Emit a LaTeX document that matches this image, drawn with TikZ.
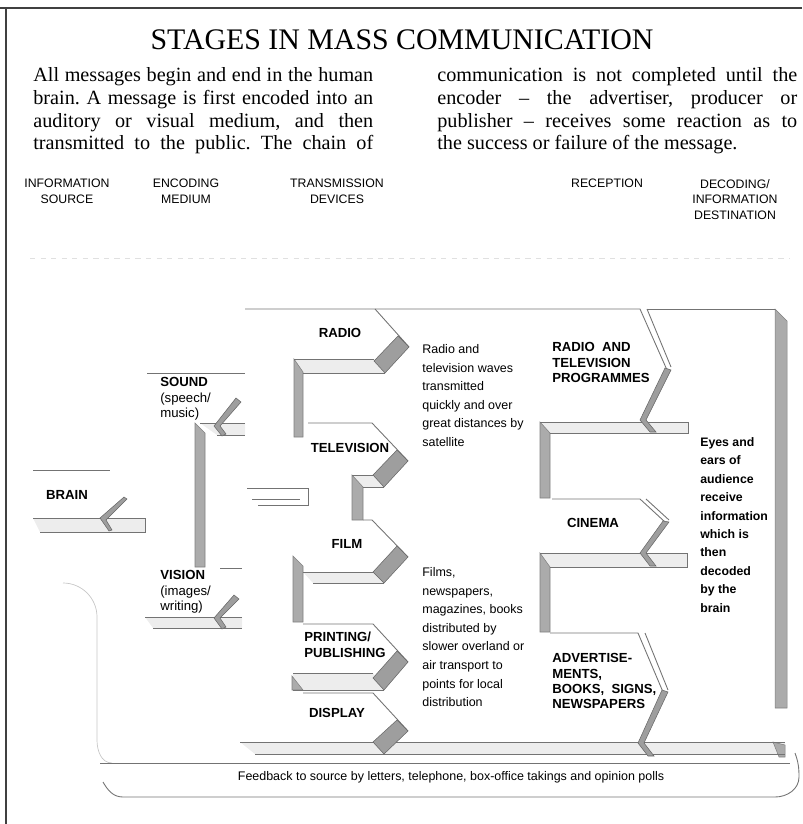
\documentclass[tikz,border=0pt]{standalone}
\usepackage{fontspec}
\setmainfont{Liberation Serif}
\setsansfont{Liberation Sans}
\frenchspacing
\tikzset{
	titulo/.style={font=\fontsize{17}{19}\selectfont, inner sep=0pt},
	parrafo/.style={font=\fontsize{11.5}{13}\selectfont, text width=6.8cm,
		align=justify, inner sep=0pt, anchor=north west},
	cabecera/.style={font=\sffamily\fontsize{7}{8.8}\selectfont, align=center,
		inner sep=0pt, anchor=north},
	etiqueta/.style={font=\sffamily\bfseries\fontsize{7.5}{8.8}\selectfont,
		align=left, inner sep=0pt},
	nota/.style={font=\sffamily\fontsize{7.1}{10.6}\selectfont, align=left,
		inner sep=0pt, anchor=north west},
	marco/.style={draw=black!75, line width=0.7pt},
	borde/.style={draw=black!55, line width=0.5pt},
	tenue/.style={draw=black!22, line width=0.4pt},
	pliegue/.style={fill=black!38, draw=black!60, line width=0.3pt},
	reverso/.style={fill=black!7},
	lateral/.style={fill=black!33, draw=black!50, line width=0.3pt}
}
\begin{document}
\begin{tikzpicture}[x=0.02cm, y=-0.02cm]
	\useasboundingbox (0,0) rectangle (802,824);
	\draw[marco] (0,8) -- (802,8);
	\draw[marco] (6,8) -- (6,824);
	
	\node[titulo] (title) at (402,40) {STAGES IN MASS COMMUNICATION};
	\node[parrafo] (izq) at (33,67) {\parfillskip=0pt All messages begin and end in the human\linebreak
		brain. A message is first encoded into an\linebreak
		auditory or visual medium, and then\linebreak
		transmitted to the public. The chain of\par};
	\node[parrafo, text width=7.2cm] (der) at (437,67) {communication is not completed until the\linebreak
		encoder -- the advertiser, producer or\linebreak
		publisher -- receives some reaction as to\linebreak
		the success or failure of the message.};
	
	\node[cabecera] (fuente) at (67,179) {INFORMATION\\SOURCE};
	\node[cabecera] (medio) at (186,179) {ENCODING\\MEDIUM};
	\node[cabecera] (trans) at (337,179) {TRANSMISSION\\DEVICES};
	\node[cabecera] (recep) at (607,179) {RECEPTION};
	\node[cabecera] (destino) at (735,179) {DECODING/\\INFORMATION\\DESTINATION};
	\draw[tenue, draw=black!12, dashed] (30,258) -- (790,258);
	
	% undersides and side bars
	\fill[reverso] (294,359) -- (374,359) -- (385,373) -- (303,373) -- cycle;
	\fill[reverso] (352,475) -- (373,475) -- (384,487) -- (363,487) -- cycle;
	\fill[reverso] (303,572) -- (373,572) -- (384,583) -- (313,583) -- cycle;
	\fill[reverso] (293,673) -- (373,673) -- (384,690) -- (293,690) -- cycle;
	\fill[reverso] (540,422) -- (688,422) -- (688,433) -- (550,433) -- cycle;
	\fill[reverso] (540,553) -- (687,553) -- (687,567) -- (550,567) -- cycle;
	\fill[reverso] (33,518) -- (145,518) -- (145,532) -- (40,532) -- cycle;
	\fill[reverso] (200,423) -- (245,423) -- (245,435) -- (217,435) -- cycle;
	\fill[reverso] (145,617) -- (242,617) -- (242,628) -- (153,628) -- cycle;
	\fill[reverso] (240,742) -- (785,742) -- (785,754) -- (255,754) -- cycle;
	\filldraw[lateral] (294,359) -- (303,372) -- (303,437) -- (294,437) -- cycle;
	\filldraw[lateral] (352,475) -- (363,487) -- (363,520) -- (352,520) -- cycle;
	\filldraw[lateral] (293,556) -- (303,566) -- (303,622) -- (293,622) -- cycle;
	\filldraw[lateral] (292,676) -- (303,690) -- (292,690) -- cycle;
	\filldraw[lateral] (195,423) -- (205,433) -- (205,567) -- (195,567) -- cycle;
	\filldraw[lateral] (540,422) -- (550,433) -- (550,498) -- (540,498) -- cycle;
	\filldraw[lateral] (540,553) -- (550,567) -- (550,632) -- (540,632) -- cycle;
	\filldraw[lateral] (775,309) -- (787,321) -- (787,708) -- (775,708) -- cycle;
	\filldraw[lateral] (773,742) -- (785,745) -- (785,757) -- (779,757) -- cycle;
	
	% ribbon edges
	\draw[borde] (245,309) -- (640,309) -- (667,370);
	\draw[borde] (647,309) -- (671,367);
	\draw[borde] (647,309) -- (775,309);
	\draw[borde] (375,309) -- (409,347);
	\draw[borde] (294,359) -- (374,359) (303,373) -- (385,373);
	\draw[borde] (308,423) -- (372,423) -- (408,461);
	\draw[borde] (352,475) -- (373,475) (363,487) -- (384,487);
	\draw[borde] (363,520) -- (372,520) -- (408,557);
	\draw[borde] (303,572) -- (373,572) (313,583) -- (384,583);
	\draw[borde] (303,624) -- (373,624) -- (408,662);
	\draw[borde] (293,673) -- (373,673) (293,690) -- (384,690);
	\draw[borde] (303,693) -- (373,693) -- (408,731);
	\draw[borde] (240,742) -- (785,742) (255,754) -- (785,754);
	\draw[borde] (540,422) -- (688,422) -- (688,433) -- (550,433);
	\draw[borde] (552,499) -- (640,499) -- (665,522) (646,499) -- (669,520);
	\draw[borde] (540,553) -- (687,553) -- (687,567) -- (550,567);
	\draw[borde] (550,633) -- (638,633) -- (663,692) (645,633) -- (668,690);
	\draw[borde] (147,373) -- (245,373);
	\draw[borde] (200,423) -- (245,423) (217,435) -- (245,435);
	\draw[borde] (220,568) -- (242,568);
	\draw[borde] (145,617) -- (242,617) (153,628) -- (242,628);
	\draw[borde] (33,470) -- (110,470);
	\draw[borde] (33,518) -- (145,518) -- (145,532) -- (40,532);
	\draw[borde] (247,488) -- (308,488) -- (308,505) -- (258,505) (252,499) -- (300,499);
	
	% folds
	\filldraw[pliegue] (398,336) -- (409,347) -- (385,373) -- (374,361) -- cycle;
	\filldraw[pliegue] (397,450) -- (408,461) -- (384,487) -- (373,475) -- cycle;
	\filldraw[pliegue] (397,546) -- (408,557) -- (384,583) -- (373,572) -- cycle;
	\filldraw[pliegue] (397,651) -- (408,662) -- (384,690) -- (373,678) -- cycle;
	\filldraw[pliegue] (397,720) -- (408,731) -- (384,754) -- (373,742) -- cycle;
	\filldraw[pliegue] (665,368) -- (671,370) -- (646,420) -- (656,432) -- (650,432) -- (640,420) -- cycle;
	\filldraw[pliegue] (663,521) -- (669,522) -- (646,553) -- (656,566) -- (650,566) -- (640,553) -- cycle;
	\filldraw[pliegue] (662,690) -- (668,692) -- (644,743) -- (654,756) -- (648,756) -- (638,743) -- cycle;
	\filldraw[pliegue] (236,398) -- (241,402) -- (220,426) -- (226,434) -- (222,436) -- (214,426) -- cycle;
	\filldraw[pliegue] (234,595) -- (239,599) -- (220,618) -- (226,627) -- (222,629) -- (214,618) -- cycle;
	\filldraw[pliegue] (100,518) -- (124,497) -- (127,499) -- (106,520) -- (112,530) -- (109,531) -- cycle;
	
	% feedback band
	\draw[tenue] (63,583) to[out=0, in=90] (97,617) -- (97,740) to[out=-90, in=180] (112,763);
	\draw[borde] (100,763) -- (790,763);
	\draw[borde] (103,782) to[out=-60, in=180] (123,797) -- (775,797)
		to[out=0, in=-90] (799,777) to[out=90, in=-70] (795,753);
	
	\node[etiqueta] (brain) at (67,495) {BRAIN};
	\node[etiqueta, anchor=north west] (sound) at (160,377) {SOUND\\\mdseries(speech/\\\mdseries music)};
	\node[etiqueta, anchor=north west] (vision) at (160,570) {VISION\\\mdseries(images/\\\mdseries writing)};
	\node[etiqueta] (radio) at (340,333) {RADIO};
	\node[etiqueta] (tv) at (350,448) {TELEVISION};
	\node[etiqueta] (film) at (347,544) {FILM};
	\node[etiqueta, anchor=north west] (print) at (304,632) {PRINTING/\\PUBLISHING};
	\node[etiqueta] (display) at (337,713) {DISPLAY};
	\node[etiqueta, anchor=north west] (rtv) at (552,342) {RADIO\ \ AND\\TELEVISION\\PROGRAMMES};
	\node[etiqueta] (cinema) at (593,523) {CINEMA};
	\node[etiqueta, anchor=north west] (advert) at (552,653) {ADVERTISE-\\MENTS,\\BOOKS,\ \ SIGNS,\\NEWSPAPERS};
	
	\node[nota] (ondas) at (422,344) {Radio and\\television waves\\transmitted\\quickly and over\\great distances by\\satellite};
	\node[nota] (prensa) at (422,567) {Films,\\newspapers,\\magazines, books\\distributed by\\slower overland or\\air transport to\\points for local\\distribution};
	\node[nota, font=\sffamily\bfseries\fontsize{7}{10.5}\selectfont] (ojos) at (700,437) {Eyes and\\ears of\\audience\\receive\\information\\which is\\then\\decoded\\by the\\brain};
	\node[nota, anchor=center] (feedback) at (451,777) {Feedback to source by letters, telephone, box-office takings and opinion polls};
\end{tikzpicture}
\end{document}
